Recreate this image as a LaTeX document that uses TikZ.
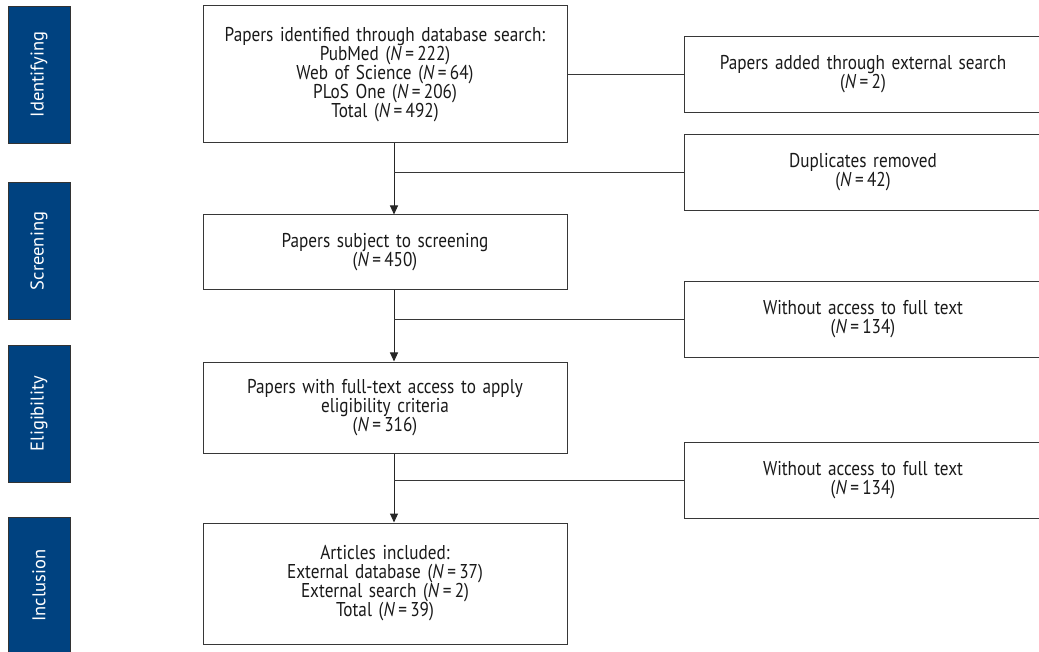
\documentclass[tikz,border=0pt]{standalone}
\usepackage{fontspec}
\setmainfont[FakeStretch=0.86]{PT Sans}
\newfontfamily\sidefont{PT Sans}
\usetikzlibrary{arrows.meta, positioning}
\definecolor{stageblue}{RGB}{0,66,128}
\definecolor{linegray}{RGB}{55,55,55}
\newcommand{\NN}[1]{(\textit{N}\,=\,#1)}

\begin{document}
\begin{tikzpicture}[
    x=1pt, y=-1pt,
    font=\fontsize{20}{19}\selectfont,
    box/.style={rectangle, draw=linegray, line width=1pt, text=black!90, text width=350pt, align=center, minimum width=364pt, inner sep=7pt},
    sidebox/.style={rectangle, draw=linegray, line width=1pt, text=black!90, text width=344pt, align=center, minimum width=358pt, minimum height=76pt, inner sep=7pt},
    stage/.style={rectangle, draw=black!80, fill=stageblue, text=white, font=\sidefont\fontsize{18.5}{20}\selectfont, rotate=90, minimum width=137pt, minimum height=62pt, line width=0.8pt},
    arrow/.style={-{Triangle[length=9pt,width=8pt]}, draw=black!85, line width=1pt},
    line/.style={draw=linegray, line width=1pt}
]
\useasboundingbox (0,0) rectangle (1039,652);

% main column
\node[box, minimum height=137pt] (found) at (385,74.5) {Papers identified through database search:\\PubMed \NN{222}\\Web of Science \NN{64}\\PLoS One \NN{206}\\Total \NN{492}};
\node[box, minimum height=75pt, below=71pt of found] (screen) {Papers subject to screening\\\NN{450}};
\node[box, minimum height=91pt, below=71pt of screen] (full) {Papers with full-text access to apply\\eligibility criteria\\\NN{316}};
\node[box, minimum height=121pt, below=69pt of full] (incl) {Articles included:\\External database \NN{37}\\External search \NN{2}\\Total \NN{39}};

% side boxes
\node[sidebox, right=116pt of found] (added) {Papers added through external search\\\NN{2}};
\node[sidebox, below=21pt of added] (dupl) {Duplicates removed\\\NN{42}};
\node[sidebox, below=70pt of dupl] (nofull) {Without access to full text\\\NN{134}};
\node[sidebox, below=84pt of nofull] (nofulltwo) {Without access to full text\\\NN{134}};

% stage labels
\node[stage] (ident) at (39,74.5) {Identifying};
\node[stage] (scr) at (39,251) {Screening};
\node[stage] (elig) at (39,413.5) {Eligibility};
\node[stage] (inc) at (39,585.5) {Inclusion};

% connectors
\coordinate (spineA) at ([xshift=9pt]found.south);
\coordinate (spineB) at ([xshift=9pt]screen.south);
\coordinate (spineC) at ([xshift=9pt]full.south);
\draw[arrow] (spineA) -- (spineA |- screen.north);
\draw[arrow] (spineB) -- (spineB |- full.north);
\draw[arrow] (spineC) -- (spineC |- incl.north);
\draw[line] (found) -- (added);
\draw[line] (dupl.west) -- (dupl.west -| spineA);
\draw[line] (nofull.west) -- (nofull.west -| spineB);
\draw[line] (nofulltwo.west) -- (nofulltwo.west -| spineC);
\end{tikzpicture}
\end{document}
